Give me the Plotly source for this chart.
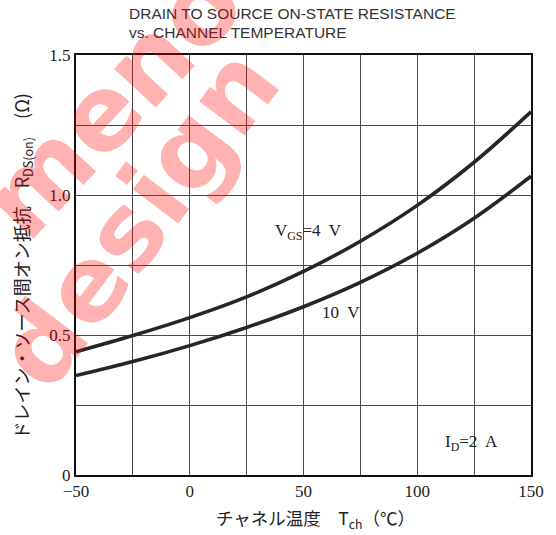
import plotly.graph_objects as go

# ---- data ----
temp_c = [-50, -25, 0, 25, 50, 75, 100, 125, 150]
rds_vgs4 = [0.440, 0.498, 0.562, 0.636, 0.727, 0.835, 0.963, 1.117, 1.297]
rds_vgs10 = [0.355, 0.405, 0.462, 0.527, 0.601, 0.688, 0.792, 0.917, 1.067]

x_ticks = [-50, -25, 0, 25, 50, 75, 100, 125, 150]
x_ticktext = ["−50", "", "0", "", "50", "", "100", "", "150"]
y_ticks = [0, 0.25, 0.5, 0.75, 1.0, 1.25, 1.5]
y_ticktext = ["0", "", "0.5", "", "1.0", "", "1.5"]

curve_color = "#262626"
grid_color = "#4a4a4a"
serif = "Liberation Serif, DejaVu Serif, serif"

fig = go.Figure()
fig.add_trace(go.Scatter(x=temp_c, y=rds_vgs4, mode="lines",
                         line=dict(color=curve_color, width=3.6, shape="spline", smoothing=1.0),
                         showlegend=False, hoverinfo="skip"))
fig.add_trace(go.Scatter(x=temp_c, y=rds_vgs10, mode="lines",
                         line=dict(color=curve_color, width=3.6, shape="spline", smoothing=1.0),
                         showlegend=False, hoverinfo="skip"))

W, H = 556, 535
ML, MR, MT, MB = 76, 21, 55, 60
PW, PH = W - ML - MR, H - MT - MB


def px(xp):
    return (xp - ML) / PW


def py(yp):
    return (H - MB - yp) / PH


title_font = dict(family="Liberation Sans, Arial, sans-serif", size=15.5, color="#333333")
wm_font = dict(family="DejaVu Sans, Liberation Sans, sans-serif", size=104, color="rgba(255,0,0,0.30)")
label_font = dict(family=serif, size=17, color="#222222")

annotations = [
    # title
    dict(text="DRAIN TO SOURCE ON-STATE RESISTANCE", xref="paper", yref="paper",
         x=px(127), y=py(14), xanchor="left", yanchor="middle", showarrow=False, font=title_font),
    dict(text="vs. CHANNEL TEMPERATURE", xref="paper", yref="paper",
         x=px(127), y=py(33), xanchor="left", yanchor="middle", showarrow=False, font=title_font),
    # curve labels
    dict(text="V<sub>GS</sub>=4  V", x=36.7, y=0.868, xanchor="left", yanchor="middle",
         showarrow=False, font=label_font),
    dict(text="10  V", x=57.1, y=0.58, xanchor="left", yanchor="middle",
         showarrow=False, font=label_font),
    dict(text="I<sub>D</sub>=2  A", x=111.5, y=0.114, xanchor="left", yanchor="middle",
         showarrow=False, font=label_font),
    # axis titles
    dict(text="チャネル温度　T<sub>ch</sub>（℃）", xref="paper", yref="paper",
         x=px(318), y=py(519), xanchor="center", yanchor="middle", showarrow=False,
         font=dict(family="Noto Sans CJK JP, " + serif, size=17.5, color="#222222")),
    dict(text="ドレイン・ソース間オン抵抗　R<sub>DS(on)</sub>　(Ω)", xref="paper", yref="paper",
         x=px(22), y=py(266), xanchor="center", yanchor="middle", textangle=-90, showarrow=False,
         font=dict(family="Noto Sans CJK JP, " + serif, size=18, color="#222222")),
    # watermark
    dict(text="<b>meno</b>", xref="paper", yref="paper", x=px(112), y=py(102),
         xanchor="center", yanchor="middle", textangle=-47, showarrow=False, font=wm_font),
    dict(text="<b>design</b>", xref="paper", yref="paper", x=px(138), y=py(218),
         xanchor="center", yanchor="middle", textangle=-53, showarrow=False, font=wm_font),
]

fig.update_layout(
    width=W, height=H,
    margin=dict(l=ML, r=MR, t=MT, b=MB, pad=0),
    paper_bgcolor="white", plot_bgcolor="white",
    showlegend=False,
    annotations=annotations,
)
fig.update_xaxes(range=[-50, 150], tickvals=x_ticks, ticktext=x_ticktext,
                 showgrid=True, gridcolor=grid_color, gridwidth=1,
                 showline=True, linecolor="#111111", linewidth=2, mirror=True,
                 ticks="", zeroline=False,
                 tickfont=dict(family=serif, size=17, color="#222222"))
fig.update_yaxes(range=[0, 1.5], tickvals=y_ticks, ticktext=y_ticktext,
                 showgrid=True, gridcolor=grid_color, gridwidth=1,
                 showline=True, linecolor="#111111", linewidth=2, mirror=True,
                 ticks="", zeroline=False,
                 tickfont=dict(family=serif, size=17, color="#222222"))

fig.write_html("out.html",
               config={"displayModeBar": False},
               post_script="document.body.style.margin='0';document.body.style.padding='0';"
                           "document.documentElement.style.overflow='hidden';")
